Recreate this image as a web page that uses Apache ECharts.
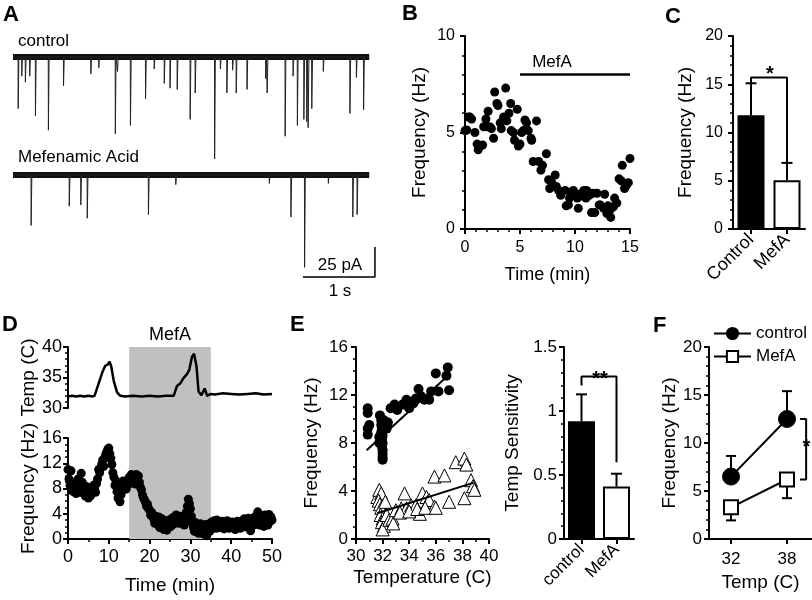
<!DOCTYPE html>
<html>
<head>
<meta charset="utf-8">
<script src="https://cdn.jsdelivr.net/npm/echarts@6/dist/echarts.min.js"></script>
<style>html,body{margin:0;padding:0;background:#fff}#c{width:812px;height:600px}</style>
</head>
<body>
<div id="c"></div>
<script>
// ---------------- DATA ----------------
// Panel A: mEPSC events (time s, amplitude pA)
const ctrlT = [0.07,0.12,0.17,0.23,0.31,0.49,0.70,1.08,1.19,1.42,1.45,1.63,1.84,1.96,2.10,2.18,2.28,2.46,2.53,2.80,2.88,2.97,3.05,3.10,3.25,3.51,3.53,3.78,3.89,3.95,4.04,4.08,4.10,4.15,4.31,4.68,4.77,4.87];
const ctrlAmp = [43,16,21,16,49,61,24,14,9,64,12,57,35,10,22,26,27,52,30,85,10,30,11,30,27,18,30,66,16,57,52,54,59,43,12,47,17,44];
const mefT = [0.25,0.78,0.94,1.03,1.88,2.26,3.56,3.86,4.05,4.38,4.72,4.78];
const mefAmp = [42,26,25,36,33,8,7,35,77,7,35,33];
const traceDur = 4.95;
const scaleBarStart = [4.03, -85]; // s, pA
const scaleBarSize = [1, 25];      // 1 s, 25 pA

// Panel B
const bTime = [0,0.15,0.3,0.6,0.9,1.1,1.2,1.4,1.6,1.7,1.9,2.0,2.1,2.4,2.6,2.7,2.9,3.0,3.2,3.3,3.5,3.7,3.8,4.0,4.15,4.2,4.4,4.5,4.75,4.85,5.0,5.15,5.3,5.45,5.6,5.75,6.0,6.06,6.2,6.5,6.7,6.9,7.05,7.4,7.6,7.7,7.9,8.2,8.3,8.5,8.7,9.1,9.2,9.4,9.5,9.85,10.0,10.15,10.3,10.4,10.6,10.8,11.0,11.05,11.3,11.5,11.8,12.0,12.3,12.6,12.7,12.9,13.2,13.25,13.5,13.6,13.8,14.0,14.3,14.5,14.7,14.85,15.0,9.7,10.2,10.7,11.2,11.6,12.2,8.0,13.0,14.2,14.6,0.45,2.25];
const bFreq = [5.1,5.13,5.8,5.7,5.0,4.4,4.1,4.3,4.35,5.3,5.7,5.3,6.1,5.2,4.7,7.1,6.5,6.4,5.5,5.2,5.8,7.3,5.6,6.0,6.5,5.1,5.0,4.6,6.2,4.3,4.4,5.0,5.1,5.65,5.5,5.1,4.7,4.6,3.5,5.6,3.5,3.05,3.3,3.9,2.55,2.1,2.4,2.8,2.2,2.0,1.75,2.0,1.2,1.25,1.6,2.0,1.85,1.75,1.07,1.7,1.85,2.0,1.6,2.0,1.75,0.85,0.85,1.85,1.25,1.07,1.8,0.8,1.0,0.6,1.15,1.6,1.35,2.6,3.3,2.1,2.3,2.4,3.65,1.9,1.6,1.7,1.9,1.85,1.25,2.2,1.2,2.5,2.2,5.8,5.3];
const bDrugSpan = [5, 15];
const bDrugLevel = 8;

// Panel C
const cCats = ['Control', 'MefA'];
const cMean = [11.8, 5.05];
const cErr = [15.1, 6.85];
const cSigLevel = 15.7;

// Panel D
const dDrugSpan = [15, 35];
const dTempTime = [0,1,2,3,4,5,6,6.5,7.5,8.5,9.1,9.7,10.2,10.6,11.2,12,12.8,14,16,18,20,22,24,25.9,26.7,27.5,28.3,29.2,29.7,30.4,30.9,31.5,32.0,32.7,33.2,33.5,34.1,34.9,36,38,40,42,44,46,48,50];
const dTempVal = [31.9,32.0,31.9,32.0,31.9,32.0,31.9,32.0,34.0,36.0,36.9,37.1,37.6,36.8,34.5,32.6,32.0,31.9,32.0,31.9,32.0,31.9,32.0,32.0,33.6,34.0,34.9,35.6,36.2,38.4,38.9,36.8,32.7,32.1,32.8,33.2,32.0,32.3,32.2,32.4,32.3,32.2,32.3,32.4,32.2,32.3];
const dFreqStep = 0.25; // min between samples
const dFreq = [
 11,9.5,8.5,10.8,8,7.5,9,8.2,
 7.2,8.8,9.5,8,7.4,10.4,9,8.5,
 7.8,6.8,8.3,7.2,6.5,7.5,6.8,7.9,
 7.3,8.5,8,7.4,8.8,9.5,11,10.5,
 11.2,11.8,12.5,11.5,12.8,13.4,13.8,14.2,
 14.4,13.5,12.8,11.8,10.5,9.8,8.5,9.2,
 7.5,6.5,8,5.9,7,8.5,9.2,8.7,
 8.3,7.9,9,8.6,9.8,9.5,10.2,9.4,
 10,9.6,8.7,10.2,9.8,10,9,8.2,
 7.8,7,6.5,6.2,5.8,5.2,5.5,4.8,
 4.6,3.8,4.2,3.5,3.2,2.5,3.6,2.8,
 2.3,3.5,1.8,2.5,3.2,2.0,1.5,2.8,
 2.2,1.4,2.9,2.5,3.1,2.0,2.6,3.4,
 2.4,3.0,3.8,2.7,3.3,2.5,3.6,2.9,
 2.6,3.1,2.2,3.0,4.2,5.2,6.3,5.6,
 4.8,3.6,2.5,1.8,1.2,2.6,1.5,2.2,
 0.9,1.8,2.4,1.3,2.0,0.8,1.6,2.3,
 0.5,1.5,2.2,1.2,2.6,1.9,2.4,2.9,
 2.2,1.7,3.0,2.4,1.8,2.6,2.1,2.8,
 2.3,1.6,2.5,2.0,2.9,2.2,1.7,2.5,
 2.1,2.7,1.8,2.4,1.5,2.2,2.8,2.0,
 2.5,1.7,2.3,2.9,2.1,3.2,2.6,1.9,
 2.4,3.3,2.7,1.3,2.5,3.0,2.2,3.5,
 2.8,3.2,4.3,3.6,2.2,3.0,2.5,3.4,
 2.0,3.8,2.6,3.3,2.2,3.9,2.8,3.5,
 3.0];

// Panel E
const eCtrlT = [30.88,30.88,30.88,30.88,31.0,31.8,31.9,31.9,31.95,31.9,32.0,31.95,32.0,31.95,32.0,32.0,32.0,32.0,31.75,31.75,32.1,32.4,32.6,32.9,33.1,33.5,33.8,34.0,34.3,34.5,34.7,34.9,35.15,35.5,35.65,36.0,36.2,36.8,36.9,37.0,32.3];
const eCtrlF = [10.9,10.5,9.2,8.7,9.5,10.3,9.9,9.5,9.2,8.9,8.6,8.3,8.0,7.7,7.4,7.1,6.8,6.6,8.5,8.0,9.9,9.7,10.9,11.2,10.75,11.2,11.6,10.9,11.3,11.7,12.5,11.9,11.6,11.6,12.3,13.8,12.3,13.6,14.3,12.4,9.2];
const eMefT = [31.6,31.75,31.9,31.7,31.8,31.9,32.0,31.85,32.0,31.95,32.1,32.0,32.2,32.3,32.5,32.75,33.0,33.4,33.65,33.8,34.15,34.5,34.8,35.0,35.3,35.4,35.5,35.9,35.9,36.65,37.0,37.5,38.15,38.3,38.15,38.65,38.8,38.9,32.8,33.3,34.0,34.6,35.2,36.0];
const eMefF = [3.5,4.1,3.8,3.2,2.9,2.6,2.3,2.0,1.7,1.4,1.1,0.8,3.1,2.0,1.6,1.7,2.4,2.55,3.8,2.55,2.8,2.8,2.1,3.8,3.5,3.1,3.25,2.7,5.2,5.3,3.1,6.4,6.7,6.2,3.4,4.9,4.4,4.1,1.3,2.2,2.3,2.5,2.6,2.6];
const eFitCtrl = [[30.8, 7.4], [36.8, 13.5]];
const eFitMef = [[31.6, 2.15], [38.85, 4.7]];
const eCats = ['control', 'MefA'];
const eMean = [0.92, 0.41];
const eErr = [1.13, 0.51];
const eSigLevel = 1.27;
const eSigLegs = [1.20, 0.60];

// Panel F
const fTemps = [32, 38];
const fCtrlMean = [6.5, 12.5];
const fCtrlErr = [8.65, 15.4];
const fMefMean = [3.3, 6.2];
const fMefErr = [1.94, 4.25];
const fSigX = [39.4, 40.05];

// ---------------- HELPERS ----------------
const FONT = "'Liberation Sans', Arial, Helvetica, sans-serif";
function merge(a, b) {
  const out = Object.assign({}, a);
  for (const k in b) {
    if (b[k] && typeof b[k] === 'object' && !Array.isArray(b[k]) && a[k] && typeof a[k] === 'object' && !Array.isArray(a[k])) out[k] = merge(a[k], b[k]);
    else out[k] = b[k];
  }
  return out;
}
const AX = {
  axisLine: {show: true, onZero: false, lineStyle: {color: '#000', width: 2}},
  axisTick: {show: true, length: 5, lineStyle: {color: '#000', width: 2}},
  minorTick: {show: true, length: 3, lineStyle: {color: '#000', width: 1.5}},
  splitLine: {show: false},
  minorSplitLine: {show: false},
  axisLabel: {color: '#000', fontSize: 16, fontFamily: FONT, margin: 8},
  nameLocation: 'middle',
  nameTextStyle: {color: '#000', fontSize: 19, fontFamily: FONT}
};
const vAx = (o) => merge(merge(AX, {type: 'value'}), o);
const cAx = (o) => merge(merge(AX, {type: 'category', axisTick: {alignWithLabel: true}}), o);
const hid = (o) => Object.assign({type: 'value', show: false}, o);
const zip = (a, b) => a.map((v, i) => [v, b[i]]);

function errRender(cap) {
  return function (params, api) {
    const p1 = api.coord([api.value(0), api.value(1)]);
    const p2 = api.coord([api.value(0), api.value(2)]);
    const st = {stroke: '#000', lineWidth: 2};
    return {type: 'group', children: [
      {type: 'line', shape: {x1: p1[0], y1: p1[1], x2: p2[0], y2: p2[1]}, style: st},
      {type: 'line', shape: {x1: p2[0] - cap, y1: p2[1], x2: p2[0] + cap, y2: p2[1]}, style: st}
    ]};
  };
}
function traceData(ts, amps) {
  const d = [[0, 0]];
  ts.forEach((t, i) => { d.push([t, 0], [t + 0.002, -amps[i]], [t + 0.012, 0]); });
  d.push([traceDur, 0]);
  return d;
}
const G = (left, top, width, height) => ({left, top, width, height, containLabel: false, outerBoundsMode: 'none'});

// grids: 0 A ctrl, 1 A mef, 2 B, 3 C, 4 D band, 5 D temp, 6 D freq, 7 E scatter, 8 E bars, 9 F
const grids = [
  G(13, 45, 367, 120), G(13, 163, 367, 120),
  G(465, 36, 165, 193),
  G(733, 36, 72, 193),
  G(68, 347, 204, 192), G(68, 347, 204, 61), G(68, 438, 204, 101),
  G(356, 347, 133, 192),
  G(564, 347, 70, 192),
  G(709, 347, 103, 192)
];
const xAxes = [
  hid({gridIndex: 0, min: 0, max: 5.1}),
  hid({gridIndex: 1, min: 0, max: 5.1}),
  vAx({gridIndex: 2, min: 0, max: 15, interval: 5, minorTick: {splitNumber: 5}, axisLabel: {margin: 11}, name: 'Time (min)', nameGap: 37, nameTextStyle: {fontSize: 18}}),
  cAx({gridIndex: 3, data: cCats, axisLabel: {rotate: 45, margin: 8, fontSize: 18}}),
  hid({gridIndex: 4, min: 0, max: 50}),
  hid({gridIndex: 5, min: 0, max: 50}),
  vAx({gridIndex: 6, min: 0, max: 50, interval: 10, minorTick: {splitNumber: 2}, axisLabel: {fontSize: 18, margin: 9}, name: 'Time (min)', nameGap: 37}),
  vAx({gridIndex: 7, min: 30, max: 40, interval: 2, minorTick: {splitNumber: 2}, axisLabel: {fontSize: 17, margin: 9}, name: 'Temperature (C)', nameGap: 29}),
  cAx({gridIndex: 8, data: eCats, axisLabel: {rotate: 45, margin: 8, fontSize: 17}}),
  vAx({gridIndex: 9, min: 29.64, max: 40.68, minorTick: {show: false}, axisLabel: {customValues: fTemps, fontSize: 17, margin: 12}, axisTick: {customValues: fTemps}, name: 'Temp (C)', nameGap: 34})
];
const yAxes = [
  hid({gridIndex: 0, min: -90, max: 10}),
  hid({gridIndex: 1, min: -90, max: 10}),
  vAx({gridIndex: 2, min: 0, max: 10, interval: 5, minorTick: {splitNumber: 5}, axisLabel: {margin: 10}, name: 'Frequency (Hz)', nameGap: 36}),
  vAx({gridIndex: 3, min: 0, max: 20, interval: 5, minorTick: {splitNumber: 5}, axisLabel: {margin: 10}, name: 'Frequency (Hz)', nameGap: 38}),
  hid({gridIndex: 4, min: 0, max: 1}),
  vAx({gridIndex: 5, min: 30, max: 40, interval: 5, minorTick: {splitNumber: 5}, axisLabel: {fontSize: 18, margin: 6}, name: 'Temp (C)', nameGap: 30}),
  vAx({gridIndex: 6, min: 0, max: 16, interval: 4, minorTick: {splitNumber: 4}, axisLabel: {fontSize: 18, margin: 6}, name: 'Frequency (Hz)', nameGap: 30}),
  vAx({gridIndex: 7, min: 0, max: 16, interval: 4, minorTick: {splitNumber: 4}, axisLabel: {fontSize: 17, margin: 8}, name: 'Frequency (Hz)', nameGap: 35}),
  vAx({gridIndex: 8, min: 0, max: 1.5, interval: 0.5, minorTick: {splitNumber: 5}, axisLabel: {fontSize: 17, margin: 7}, name: 'Temp Sensitivity', nameGap: 42}),
  vAx({gridIndex: 9, min: 0, max: 20, interval: 5, minorTick: {splitNumber: 5}, axisLabel: {fontSize: 17, margin: 7}, name: 'Frequency (Hz)', nameGap: 29})
];

const blackLine = (w) => ({color: '#000', width: w});
const dot = {color: '#000', opacity: 1};
const series = [
  // A
  {type: 'line', xAxisIndex: 0, yAxisIndex: 0, data: [[0, 0], [traceDur, 0]], symbol: 'none', lineStyle: {color: '#111', width: 6}, z: 2},
  {type: 'line', xAxisIndex: 0, yAxisIndex: 0, data: traceData(ctrlT, ctrlAmp), symbol: 'none', lineStyle: {color: '#222', width: 1}, z: 3},
  {type: 'line', xAxisIndex: 1, yAxisIndex: 1, data: [[0, 0], [traceDur, 0]], symbol: 'none', lineStyle: {color: '#111', width: 6}, z: 2},
  {type: 'line', xAxisIndex: 1, yAxisIndex: 1, data: traceData(mefT, mefAmp), symbol: 'none', lineStyle: {color: '#222', width: 1}, z: 3},
  {type: 'line', xAxisIndex: 1, yAxisIndex: 1, symbol: 'none', lineStyle: blackLine(1.5),
   data: [scaleBarStart, [scaleBarStart[0] + scaleBarSize[0], scaleBarStart[1]], [scaleBarStart[0] + scaleBarSize[0], scaleBarStart[1] + scaleBarSize[1]]]},
  // B
  {type: 'scatter', xAxisIndex: 2, yAxisIndex: 2, data: zip(bTime, bFreq), symbolSize: 9, itemStyle: dot},
  {type: 'line', xAxisIndex: 2, yAxisIndex: 2, data: bDrugSpan.map(t => [t, bDrugLevel]), symbol: 'none', lineStyle: blackLine(2.5)},
  // C
  {type: 'bar', xAxisIndex: 3, yAxisIndex: 3, barWidth: 27, z: 2,
   data: cMean.map((v, i) => ({value: v, itemStyle: {color: i === 0 ? '#000' : '#fff', borderColor: '#000', borderWidth: 2}}))},
  {type: 'custom', xAxisIndex: 3, yAxisIndex: 3, renderItem: errRender(5.5), data: cMean.map((v, i) => [i, v, cErr[i]]), z: 3},
  {type: 'line', xAxisIndex: 3, yAxisIndex: 3, symbol: 'none', lineStyle: blackLine(2), z: 3,
   data: [[0, cErr[0]], [0, cSigLevel], [1, cSigLevel], [1, cErr[1]]]},
  // D band
  {type: 'line', xAxisIndex: 4, yAxisIndex: 4, data: [], z: 0,
   markArea: {silent: true, itemStyle: {color: '#c0c0c0'},
     label: {show: true, position: 'top', color: '#000', fontSize: 18, fontFamily: FONT, distance: 3},
     data: [[{name: 'MefA', xAxis: dDrugSpan[0]}, {xAxis: dDrugSpan[1]}]]}},
  {type: 'line', xAxisIndex: 5, yAxisIndex: 5, data: zip(dTempTime, dTempVal), symbol: 'none', lineStyle: blackLine(2.5), z: 3},
  {type: 'scatter', xAxisIndex: 6, yAxisIndex: 6, data: dFreq.map((v, i) => [i * dFreqStep, v]), symbolSize: 9, itemStyle: dot, z: 3},
  // E scatter
  {type: 'scatter', xAxisIndex: 7, yAxisIndex: 7, data: zip(eCtrlT, eCtrlF), symbolSize: 10, itemStyle: dot},
  {type: 'scatter', xAxisIndex: 7, yAxisIndex: 7, data: zip(eMefT, eMefF), symbol: 'triangle', symbolSize: 13, itemStyle: {color: '#fff', borderColor: '#000', borderWidth: 1, opacity: 1}},
  {type: 'line', xAxisIndex: 7, yAxisIndex: 7, data: eFitCtrl, symbol: 'none', lineStyle: blackLine(2), z: 4},
  {type: 'line', xAxisIndex: 7, yAxisIndex: 7, data: eFitMef, symbol: 'none', lineStyle: blackLine(2), z: 4},
  // E bars
  {type: 'bar', xAxisIndex: 8, yAxisIndex: 8, barWidth: 27, z: 2,
   data: eMean.map((v, i) => ({value: v, itemStyle: {color: i === 0 ? '#000' : '#fff', borderColor: '#000', borderWidth: 2}}))},
  {type: 'custom', xAxisIndex: 8, yAxisIndex: 8, renderItem: errRender(5.5), data: eMean.map((v, i) => [i, v, eErr[i]]), z: 3},
  {type: 'line', xAxisIndex: 8, yAxisIndex: 8, symbol: 'none', lineStyle: blackLine(2), z: 3,
   data: [[0, eSigLegs[0]], [0, eSigLevel], [1, eSigLevel], [1, eSigLegs[1]]]},
  // F
  {type: 'custom', xAxisIndex: 9, yAxisIndex: 9, renderItem: errRender(5), data: fTemps.map((t, i) => [t, fCtrlMean[i], fCtrlErr[i]]), z: 2},
  {type: 'custom', xAxisIndex: 9, yAxisIndex: 9, renderItem: errRender(5), data: fTemps.map((t, i) => [t, fMefMean[i], fMefErr[i]]), z: 2},
  {name: 'control', type: 'line', xAxisIndex: 9, yAxisIndex: 9, data: zip(fTemps, fCtrlMean), symbol: 'circle', symbolSize: 17,
   lineStyle: blackLine(2), itemStyle: {color: '#000', borderColor: '#000', borderWidth: 1}, z: 4},
  {name: 'MefA', type: 'line', xAxisIndex: 9, yAxisIndex: 9, data: zip(fTemps, fMefMean), symbol: 'rect', symbolSize: 14,
   lineStyle: blackLine(2), itemStyle: {color: '#fff', borderColor: '#000', borderWidth: 2}, z: 4},
  {type: 'line', xAxisIndex: 9, yAxisIndex: 9, symbol: 'none', lineStyle: blackLine(2), z: 3,
   data: [[fSigX[0], fCtrlMean[1]], [fSigX[1], fCtrlMean[1]], [fSigX[1], fMefMean[1]], [fSigX[0], fMefMean[1]]]}
];

function txt(text, x, y, font, align) {
  return {type: 'text', x: x, y: y, z: 10, style: {text: text, font: font + ' ' + FONT, fill: '#000', align: align || 'left', verticalAlign: 'middle'}};
}
const graphics = [
  txt('A', 3, 15, 'bold 22px'), txt('B', 402, 14, 'bold 22px'), txt('C', 665, 17, 'bold 22px'),
  txt('D', 2, 325, 'bold 22px'), txt('E', 290, 325, 'bold 22px'), txt('F', 653, 326, 'bold 22px'),
  txt('control', 18, 41, '17px'), txt('Mefenamic Acid', 18, 157, '17px'),
  txt('25 pA', 340, 265, '17px', 'center'), txt('1 s', 340, 291, '17px', 'center'),
  txt('MefA', 552, 62, '17px', 'center'),
  txt('*', 770, 74, 'bold 20px', 'center'),
  txt('**', 600, 379, 'bold 20px', 'center'),
  txt('*', 806.5, 447, 'bold 20px', 'center')
];

const chart = echarts.init(document.getElementById('c'), null, {renderer: 'canvas', width: 812, height: 600});
chart.setOption({
  backgroundColor: '#fff',
  animation: false,
  textStyle: {fontFamily: FONT},
  grid: grids, xAxis: xAxes, yAxis: yAxes, series: series,
  legend: {data: ['control', 'MefA'], orient: 'vertical', left: 713, top: 325, itemWidth: 37, itemHeight: 14, itemGap: 6,
    textStyle: {color: '#000', fontSize: 17, fontFamily: FONT}, selectedMode: false, padding: 0},
  graphic: graphics
});
</script>
</body>
</html>
